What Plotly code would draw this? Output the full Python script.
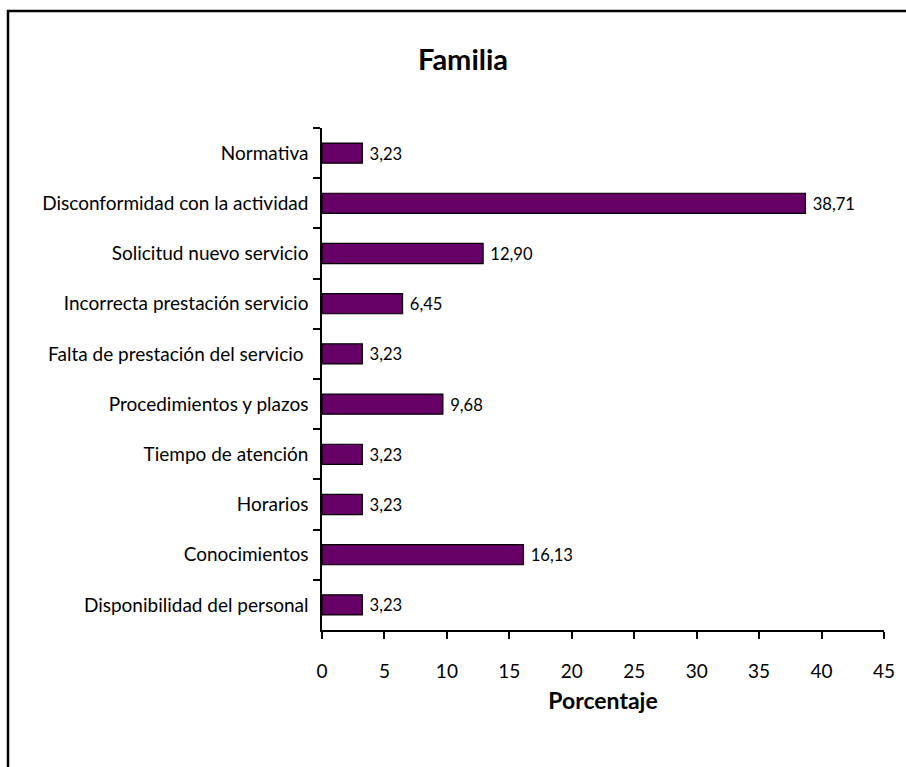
import plotly.graph_objects as go

categories = ["Normativa", "Disconformidad con la actividad", "Solicitud nuevo servicio",
              "Incorrecta prestación servicio", "Falta de prestación del servicio ",
              "Procedimientos y plazos", "Tiempo de atención", "Horarios",
              "Conocimientos", "Disponibilidad del personal"]
values = [3.23, 38.71, 12.90, 6.45, 3.23, 9.68, 3.23, 3.23, 16.13, 3.23]
x_ticks = [0, 5, 10, 15, 20, 25, 30, 35, 40, 45]

labels = [" " + f"{v:.2f}".replace(".", ",") for v in values]

FONT = "Lato, Gill Sans, sans-serif"

fig = go.Figure(go.Bar(
    y=categories, x=values, orientation="h",
    marker=dict(color="#660066", line=dict(color="black", width=1.2)),
    text=labels, textposition="outside", cliponaxis=False,
    textfont=dict(family=FONT, size=19, color="black"),
))

# plot area: x 322..884, y 128..630
L, R, T, B = 322, 884, 128, 630
W, H = 906, 767

def px(x):
    return (x - L) / (R - L)

def py(y):
    return (B - y) / (B - T)

fig.update_layout(
    width=W, height=H,
    margin=dict(l=L, r=W - R, t=T, b=H - B),
    paper_bgcolor="white", plot_bgcolor="white",
    bargap=0.6, showlegend=False,
    font=dict(family=FONT, size=19, color="black"),
    title=dict(text="<b>Familia</b>", x=463 / W, xanchor="center",
               xref="container", y=1 - 60 / H, yanchor="middle", yref="container",
               font=dict(family=FONT, size=29, color="black")),
    xaxis=dict(range=[0, 45], tickvals=x_ticks, ticks="outside", ticklen=7,
               tickwidth=1.5, tickcolor="black", showline=True, linecolor="black",
               linewidth=1.5, showgrid=False, zeroline=False,
               tickfont=dict(family=FONT, size=19), ticklabelstandoff=16,
               title=dict(text="<b>Porcentaje</b>", standoff=12,
                          font=dict(family=FONT, size=23))),
    yaxis=dict(autorange="reversed", ticks="outside", tickson="boundaries",
               ticklen=7, tickwidth=1.5, tickcolor="black", showline=True,
               linecolor="black", linewidth=1.5, showgrid=False,
               tickfont=dict(family=FONT, size=19), ticklabelstandoff=8),
    shapes=[dict(type="rect", xref="paper", yref="paper",
                 x0=px(8), x1=px(915), y0=py(775), y1=py(11),
                 line=dict(color="black", width=2.5), fillcolor="rgba(0,0,0,0)")],
)

fig.write_html("out.html", config={"displayModeBar": False},
               post_script="document.body.style.margin='0';document.body.style.overflow='hidden';")
